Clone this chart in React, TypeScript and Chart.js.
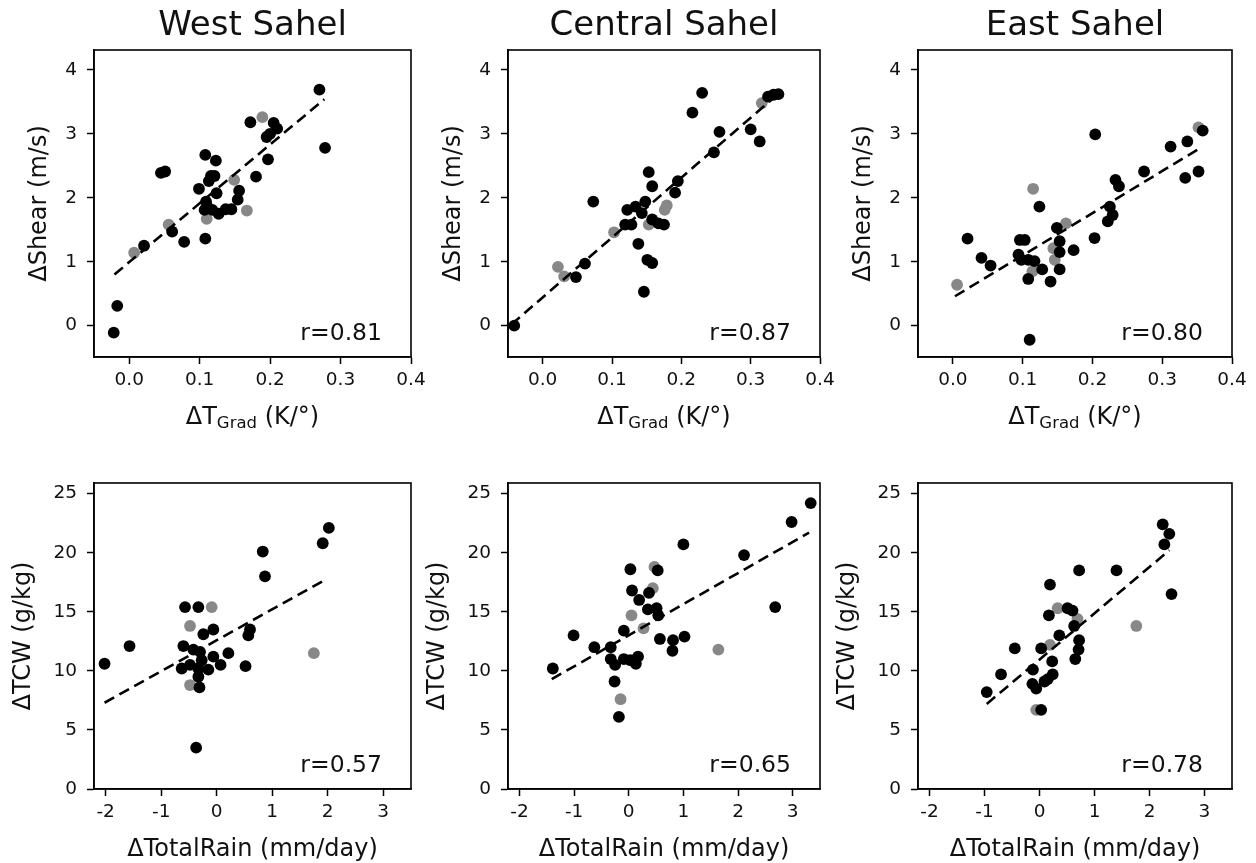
import React, { useEffect, useRef } from 'react';
import { Chart, registerables } from 'chart.js';

Chart.register(...registerables);

type Pt = [number, number];

// ---------- data ----------
const regionTitles = ['West Sahel', 'Central Sahel', 'East Sahel'];
const shearR = ['r=0.81', 'r=0.87', 'r=0.80'];
const tcwR = ['r=0.57', 'r=0.65', 'r=0.78'];

const tGradTicks = [0, 0.1, 0.2, 0.3, 0.4];
const shearTicks = [0, 1, 2, 3, 4];
const rainTicks = [-2, -1, 0, 1, 2, 3];
const tcwTicks = [0, 5, 10, 15, 20, 25];

// West Sahel: ΔTGrad vs ΔShear
const westShearBlack: Pt[] = [
  [0.270, 3.69], [0.278, 2.78], [0.172, 3.18], [0.205, 3.17], [0.210, 3.08], [0.200, 3.00],
  [0.195, 2.95], [0.197, 2.60], [0.180, 2.33], [0.108, 2.67], [0.123, 2.58], [0.045, 2.39],
  [0.051, 2.41], [0.116, 2.34], [0.121, 2.34], [0.113, 2.26], [0.099, 2.14], [0.124, 2.07],
  [0.156, 2.11], [0.154, 1.97], [0.109, 1.94], [0.111, 1.86], [0.107, 1.81], [0.118, 1.81],
  [0.127, 1.75], [0.137, 1.82], [0.145, 1.82], [0.061, 1.47], [0.078, 1.31], [0.108, 1.36],
  [0.021, 1.25], [-0.017, 0.31], [-0.022, -0.11],
];
const westShearGray: Pt[] = [
  [0.189, 3.26], [0.149, 2.28], [0.167, 1.80], [0.110, 1.67], [0.056, 1.58], [0.007, 1.14],
];
const westShearFit: Pt[] = [[-0.021, 0.80], [0.277, 3.54]];

// Central Sahel: ΔTGrad vs ΔShear
const centralShearBlack: Pt[] = [
  [0.230, 3.64], [0.216, 3.33], [0.325, 3.58], [0.333, 3.61], [0.340, 3.62], [0.255, 3.03],
  [0.300, 3.07], [0.313, 2.88], [0.247, 2.71], [0.153, 2.40], [0.158, 2.18], [0.195, 2.26],
  [0.191, 2.08], [0.073, 1.94], [0.148, 1.94], [0.122, 1.81], [0.134, 1.86], [0.143, 1.76],
  [0.158, 1.66], [0.167, 1.60], [0.175, 1.58], [0.119, 1.58], [0.128, 1.58], [0.138, 1.28],
  [0.151, 1.03], [0.158, 0.98], [0.061, 0.97], [0.048, 0.76], [0.146, 0.53], [-0.041, 0.00],
];
const centralShearGray: Pt[] = [
  [0.316, 3.48], [0.179, 1.88], [0.176, 1.81], [0.153, 1.58], [0.103, 1.46], [0.022, 0.92], [0.031, 0.77],
];
const centralShearFit: Pt[] = [[-0.045, 0.02], [0.333, 3.56]];

// East Sahel: ΔTGrad vs ΔShear
const eastShearBlack: Pt[] = [
  [0.204, 2.99], [0.358, 3.05], [0.312, 2.80], [0.336, 2.88], [0.352, 2.41], [0.333, 2.31],
  [0.274, 2.41], [0.233, 2.28], [0.238, 2.18], [0.225, 1.86], [0.229, 1.73], [0.222, 1.63],
  [0.124, 1.86], [0.149, 1.53], [0.153, 1.32], [0.153, 1.15], [0.203, 1.37], [0.173, 1.18],
  [0.021, 1.36], [0.041, 1.06], [0.054, 0.94], [0.096, 1.34], [0.103, 1.34], [0.094, 1.11],
  [0.098, 1.03], [0.108, 1.03], [0.117, 1.01], [0.128, 0.88], [0.153, 0.88], [0.108, 0.73],
  [0.140, 0.69], [0.110, -0.22],
];
const eastShearGray: Pt[] = [
  [0.115, 2.14], [0.352, 3.10], [0.162, 1.60], [0.144, 1.21], [0.146, 1.03], [0.114, 0.85], [0.006, 0.64],
];
const eastShearFit: Pt[] = [[0.003, 0.46], [0.355, 2.78]];

// West Sahel: ΔTotalRain vs ΔTCW
const westTcwBlack: Pt[] = [
  [2.02, 22.1], [1.91, 20.8], [0.83, 20.1], [0.87, 18.0], [-0.57, 15.4], [-0.33, 15.4],
  [-0.06, 13.5], [-0.24, 13.1], [0.60, 13.5], [0.57, 13.0], [-1.57, 12.1], [-2.02, 10.6],
  [-0.60, 12.1], [-0.42, 11.8], [-0.30, 11.6], [0.21, 11.5], [-0.06, 11.2], [-0.63, 10.2],
  [-0.48, 10.5], [-0.33, 10.2], [-0.15, 10.1], [0.07, 10.5], [0.52, 10.4], [-0.33, 9.5],
  [-0.31, 8.6], [-0.37, 3.5], [-0.27, 10.9],
];
const westTcwGray: Pt[] = [[-0.09, 15.4], [-0.48, 13.8], [1.75, 11.5], [-0.48, 8.8]];
const westTcwFit: Pt[] = [[-2.02, 7.3], [1.99, 17.8]];

// Central Sahel: ΔTotalRain vs ΔTCW
const centralTcwBlack: Pt[] = [
  [3.33, 24.2], [2.98, 22.6], [1.00, 20.7], [2.11, 19.8], [2.68, 15.4], [0.03, 18.6],
  [0.53, 18.5], [0.06, 16.8], [0.37, 16.6], [0.19, 16.0], [0.35, 15.2], [0.51, 15.3],
  [0.54, 14.7], [-0.09, 13.4], [-1.01, 13.0], [-0.63, 12.0], [-0.33, 12.0], [0.57, 12.7],
  [0.81, 12.6], [1.02, 12.9], [0.80, 11.7], [-0.33, 11.0], [-0.25, 10.5], [-0.09, 11.0],
  [0.03, 10.9], [0.17, 11.2], [0.13, 10.6], [-1.39, 10.2], [-0.26, 9.1], [-0.18, 6.1],
];
const centralTcwGray: Pt[] = [[0.47, 18.8], [0.44, 17.0], [0.05, 14.7], [0.27, 13.6], [1.64, 11.8], [-0.15, 7.6]];
const centralTcwFit: Pt[] = [[-1.41, 9.3], [3.30, 21.7]];

// East Sahel: ΔTotalRain vs ΔTCW
const eastTcwBlack: Pt[] = [
  [2.24, 22.4], [2.36, 21.6], [2.27, 20.7], [2.40, 16.5], [0.72, 18.5], [1.40, 18.5],
  [0.19, 17.3], [0.51, 15.3], [0.60, 15.1], [0.17, 14.7], [0.63, 13.8], [0.36, 13.0],
  [0.72, 12.6], [0.71, 11.8], [0.65, 11.0], [-0.45, 11.9], [0.03, 11.9], [0.23, 10.8],
  [-0.12, 10.1], [-0.70, 9.7], [0.24, 9.7], [0.15, 9.3], [0.09, 9.1], [-0.13, 8.9],
  [-0.06, 8.5], [-0.96, 8.2], [0.03, 6.7],
];
const eastTcwGray: Pt[] = [[0.33, 15.3], [0.69, 14.4], [0.19, 12.2], [1.76, 13.8], [-0.06, 6.7]];
const eastTcwFit: Pt[] = [[-0.96, 7.2], [2.36, 20.2]];

// ---------- layout ----------
const FONT = "'DejaVu Sans', 'Noto Sans', sans-serif";
const colBox: [number, number][] = [[94, 411], [508, 820], [918, 1232]];
const rowBox: [number, number][] = [[50, 357], [483, 789]];
const LEFT_EXTRA = 94;
const TOP_EXTRA = 50;
const RIGHT_EXTRA = 20;
const BOTTOM_EXTRA = 74;

type LabelPart = { text: string; size: number; dy: number };

type PanelSpec = {
  col: number;
  row: number;
  title?: string;
  rText: string;
  black: Pt[];
  gray: Pt[];
  fit: Pt[];
  xMin: number;
  xMax: number;
  yMin: number;
  yMax: number;
  xTicks: number[];
  yTicks: number[];
  xDecimals: number;
  xLabel: LabelPart[];
  yLabel: string;
  yLabelOffset: number;
};

const topXLabel: LabelPart[] = [
  { text: 'ΔT', size: 24, dy: 0 },
  { text: 'Grad', size: 16.5, dy: 4 },
  { text: ' (K/°)', size: 24, dy: 0 },
];
const bottomXLabel: LabelPart[] = [{ text: 'ΔTotalRain (mm/day)', size: 24, dy: 0 }];

const shearSets = [
  [westShearBlack, westShearGray, westShearFit],
  [centralShearBlack, centralShearGray, centralShearFit],
  [eastShearBlack, eastShearGray, eastShearFit],
];
const tcwSets = [
  [westTcwBlack, westTcwGray, westTcwFit],
  [centralTcwBlack, centralTcwGray, centralTcwFit],
  [eastTcwBlack, eastTcwGray, eastTcwFit],
];

const panels: PanelSpec[] = [
  ...shearSets.map((s, i) => ({
    col: i, row: 0, title: regionTitles[i], rText: shearR[i],
    black: s[0], gray: s[1], fit: s[2],
    xMin: -0.05, xMax: 0.4, yMin: -0.49, yMax: 4.31,
    xTicks: tGradTicks, yTicks: shearTicks, xDecimals: 1,
    xLabel: topXLabel, yLabel: 'ΔShear (m/s)', yLabelOffset: 54,
  })),
  ...tcwSets.map((s, i) => ({
    col: i, row: 1, rText: tcwR[i],
    black: s[0], gray: s[1], fit: s[2],
    xMin: -2.21, xMax: 3.5, yMin: 0, yMax: 25.9,
    xTicks: rainTicks, yTicks: tcwTicks, xDecimals: 0,
    xLabel: bottomXLabel, yLabel: 'ΔTCW (g/kg)', yLabelOffset: 70,
  })),
];

const panelDecor = {
  id: 'panelDecor',
  afterDraw(chart: any, _args: any, opts: any) {
    const { ctx, chartArea: a } = chart;
    ctx.save();
    ctx.strokeStyle = '#000';
    ctx.lineWidth = 1.6;
    ctx.strokeRect(a.left, a.top, a.right - a.left, a.bottom - a.top);
    ctx.fillStyle = '#111';
    const cx = (a.left + a.right) / 2;
    if (opts.title) {
      ctx.font = `34px ${FONT}`;
      ctx.textAlign = 'center';
      ctx.textBaseline = 'alphabetic';
      ctx.fillText(opts.title, cx, a.top - 15);
    }
    // correlation annotation
    ctx.font = `23.5px ${FONT}`;
    ctx.textAlign = 'right';
    ctx.textBaseline = 'middle';
    ctx.fillText(opts.rText, a.right - 29, a.bottom - 23);
    // y label
    ctx.save();
    ctx.translate(a.left - opts.yLabelOffset, (a.top + a.bottom) / 2);
    ctx.rotate(-Math.PI / 2);
    ctx.font = `24px ${FONT}`;
    ctx.textAlign = 'center';
    ctx.textBaseline = 'middle';
    ctx.fillText(opts.yLabel, 0, 0);
    ctx.restore();
    // x label (with optional subscript part)
    const parts: LabelPart[] = opts.xLabel;
    ctx.textAlign = 'left';
    ctx.textBaseline = 'alphabetic';
    let total = 0;
    const widths = parts.map((p) => {
      ctx.font = `${p.size}px ${FONT}`;
      const w = ctx.measureText(p.text).width;
      total += w;
      return w;
    });
    let x = cx - total / 2;
    const base = a.bottom + 67;
    parts.forEach((p, i) => {
      ctx.font = `${p.size}px ${FONT}`;
      ctx.fillText(p.text, x, base + p.dy);
      x += widths[i];
    });
    ctx.restore();
  },
};

function Panel({ spec }: { spec: PanelSpec }) {
  const ref = useRef<HTMLCanvasElement | null>(null);
  const bx = colBox[spec.col];
  const by = rowBox[spec.row];
  const left = bx[0] - LEFT_EXTRA;
  const top = by[0] - TOP_EXTRA;
  const width = bx[1] - left + RIGHT_EXTRA;
  const height = by[1] - top + BOTTOM_EXTRA;

  useEffect(() => {
    if (!ref.current) return;
    const toXY = (arr: Pt[]) => arr.map(([x, y]) => ({ x, y }));
    const chart = new Chart(ref.current, {
      type: 'scatter',
      data: {
        datasets: [
          {
            type: 'line',
            data: toXY(spec.fit),
            borderColor: '#000',
            borderWidth: 2.6,
            borderDash: [11, 6],
            pointRadius: 0,
            fill: false,
          } as any,
          {
            data: toXY(spec.black),
            backgroundColor: '#000',
            borderWidth: 0,
            pointRadius: 5.9,
          },
          {
            data: toXY(spec.gray),
            backgroundColor: '#888888',
            borderWidth: 0,
            pointRadius: 5.9,
          },
        ],
      },
      options: {
        animation: false,
        responsive: false,
        maintainAspectRatio: false,
        events: [],
        layout: {
          autoPadding: false,
          padding: { left: 0, top: TOP_EXTRA, right: RIGHT_EXTRA, bottom: 0 },
        } as any,
        plugins: {
          legend: { display: false },
          tooltip: { enabled: false },
          panelDecor: {
            title: spec.title,
            rText: spec.rText,
            yLabel: spec.yLabel,
            yLabelOffset: spec.yLabelOffset,
            xLabel: spec.xLabel,
          },
        } as any,
        scales: {
          x: {
            type: 'linear',
            min: spec.xMin,
            max: spec.xMax,
            afterFit: (s: any) => { s.height = BOTTOM_EXTRA; },
            afterBuildTicks: (s: any) => { s.ticks = spec.xTicks.map((v) => ({ value: v })); },
            ticks: {
              color: '#111',
              font: { family: FONT, size: 18.5 },
              padding: 5,
              maxRotation: 0,
              autoSkip: false,
              callback: (v: any) => Number(v).toFixed(spec.xDecimals),
            },
            grid: { display: true, drawOnChartArea: false, drawTicks: true, tickLength: 7, tickWidth: 1.5, color: '#000', tickColor: '#000' },
            border: { display: true, color: '#000', width: 1.6 },
          },
          y: {
            type: 'linear',
            min: spec.yMin,
            max: spec.yMax,
            afterFit: (s: any) => { s.width = LEFT_EXTRA; },
            afterBuildTicks: (s: any) => { s.ticks = spec.yTicks.map((v) => ({ value: v })); },
            ticks: {
              color: '#111',
              font: { family: FONT, size: 18.5 },
              padding: 10,
              autoSkip: false,
              callback: (v: any) => String(v),
            },
            grid: { display: true, drawOnChartArea: false, drawTicks: true, tickLength: 7, tickWidth: 1.5, color: '#000', tickColor: '#000' },
            border: { display: true, color: '#000', width: 1.6 },
          },
        },
      },
      plugins: [panelDecor],
    } as any);
    return () => chart.destroy();
  }, [spec]);

  return (
    <canvas
      ref={ref}
      width={width}
      height={height}
      style={{ position: 'absolute', left, top, width, height }}
    />
  );
}

export default function App() {
  return (
    <div style={{ position: 'absolute', left: 0, top: 0, width: 1256, height: 863, background: '#fff', overflow: 'hidden' }}>
      {panels.map((p, i) => (
        <Panel key={i} spec={p} />
      ))}
    </div>
  );
}
